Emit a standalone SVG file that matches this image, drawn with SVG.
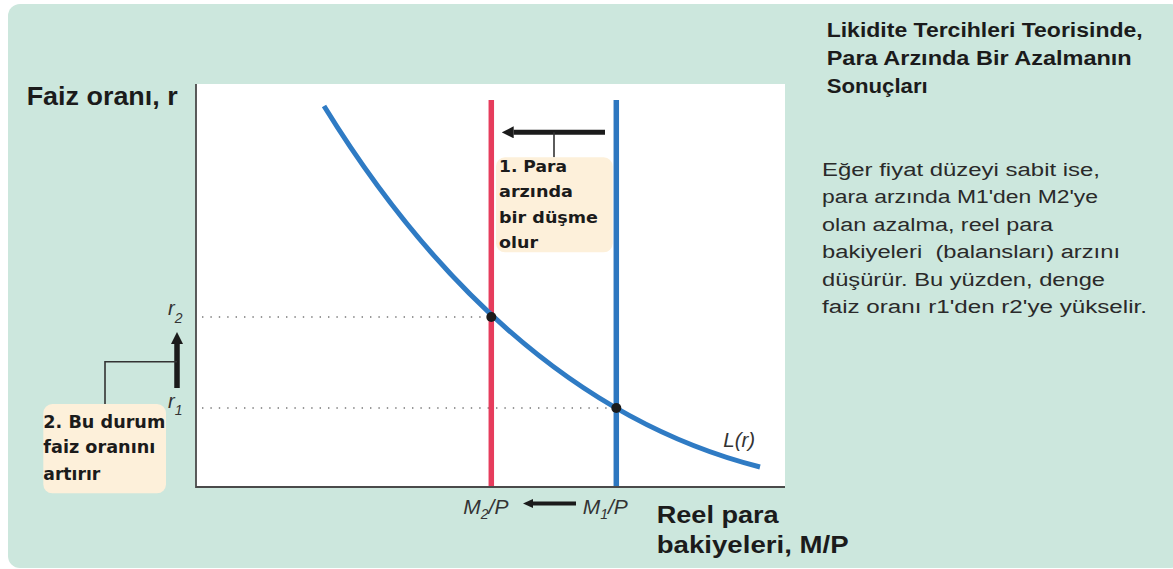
<svg xmlns="http://www.w3.org/2000/svg" width="1173" height="569" viewBox="0 0 1173 569">
  <style>
    .bold { font-family: "Liberation Sans", Arial, sans-serif; font-weight: bold; fill: #1b1b1b; }
    .box { font-family: "DejaVu Sans", "Liberation Sans", sans-serif; font-weight: bold; fill: #1b1b1b; font-size: 16.5px; }
    .box2 { font-family: "DejaVu Sans", "Liberation Sans", sans-serif; font-weight: bold; fill: #1b1b1b; font-size: 17.5px; }
    .para { font-family: "Liberation Sans", Arial, sans-serif; fill: #2a2a2a; font-size: 18px; }
    .ital { font-family: "Liberation Sans", Arial, sans-serif; font-style: italic; fill: #333333; }
    .dots { stroke: #777777; stroke-width: 1.6; stroke-dasharray: 1.4 7; fill: none; }
    .conn { stroke: #333333; stroke-width: 1.6; fill: none; }
    .arrow { stroke: #1b1b1b; fill: none; }
    .note { fill: #fdf0da; }
  </style>
  <defs>
    <marker id="ahBig" viewBox="0 0 12 12" refX="0" refY="6" markerWidth="12" markerHeight="12" markerUnits="userSpaceOnUse" orient="auto">
      <path d="M0,0 L12,6 L0,12 z" fill="#1b1b1b"/>
    </marker>
    <marker id="ahSmall" viewBox="0 0 10 9" refX="0" refY="4.5" markerWidth="10" markerHeight="9" markerUnits="userSpaceOnUse" orient="auto">
      <path d="M0,0 L10,4.5 L0,9 z" fill="#1b1b1b"/>
    </marker>
  </defs>

  <g id="background">
    <rect x="8" y="4" width="1175" height="564" rx="12" ry="12" fill="#cce7dd"/>
  </g>

  <g id="plot">
    <rect x="196" y="84" width="589" height="403" fill="#ffffff"/>
    <path d="M196,84 L196,487 L785,487" stroke="#4a4a4a" stroke-width="1.8" fill="none"/>
  </g>

  <g id="guides">
    <line class="dots" x1="202" y1="317" x2="488" y2="317"/>
    <line class="dots" x1="202" y1="408" x2="612" y2="408"/>
  </g>

  <g id="supply-lines">
    <line id="M2-line" x1="491.3" y1="100" x2="491.3" y2="486" stroke="#e63c5c" stroke-width="5.5"/>
    <line id="M1-line" x1="616.3" y1="100" x2="616.3" y2="486" stroke="#2d77c0" stroke-width="5.5"/>
  </g>

  <g id="demand-curve">
    <path d="M324,106 C424.7,269.4 568,418.5 760,467" stroke="#2f7bc4" stroke-width="5" fill="none"/>
  </g>

  <g id="equilibria">
    <circle cx="491.3" cy="317" r="5" fill="#1b1b1b"/>
    <circle cx="616.3" cy="408" r="5" fill="#1b1b1b"/>
  </g>

  <g id="connectors">
    <line class="arrow" x1="605" y1="132.3" x2="513.7" y2="132.3" stroke-width="5" marker-end="url(#ahBig)"/>
    <line class="conn" x1="554" y1="132.3" x2="554" y2="157.3"/>
    <line class="arrow" x1="576" y1="503.5" x2="533" y2="503.5" stroke-width="4" marker-end="url(#ahSmall)"/>
    <line class="arrow" x1="177" y1="388" x2="177" y2="344" stroke-width="5.5" marker-end="url(#ahBig)"/>
    <path class="conn" d="M177,361.7 L105,361.7 L105,404"/>
  </g>

  <g id="note-1">
    <rect class="note" x="496" y="157.3" width="116.7" height="95" rx="9" ry="9"/>
    <text class="box" x="499" y="171.7" textLength="68" lengthAdjust="spacingAndGlyphs">1. Para</text>
    <text class="box" x="499" y="197.3" textLength="74" lengthAdjust="spacingAndGlyphs">arzında</text>
    <text class="box" x="499" y="222.7" textLength="99" lengthAdjust="spacingAndGlyphs">bir düşme</text>
    <text class="box" x="499" y="248" textLength="39" lengthAdjust="spacingAndGlyphs">olur</text>
  </g>

  <g id="note-2">
    <rect class="note" x="43.3" y="404" width="122.7" height="89.3" rx="9" ry="9"/>
    <text class="box2" x="43.3" y="428.3" textLength="122" lengthAdjust="spacingAndGlyphs">2. Bu durum</text>
    <text class="box2" x="43.3" y="453.3" textLength="112" lengthAdjust="spacingAndGlyphs">faiz oranını</text>
    <text class="box2" x="43.3" y="480" textLength="57" lengthAdjust="spacingAndGlyphs">artırır</text>
  </g>

  <g id="axis-labels">
    <text class="bold" x="26.7" y="105" font-size="25.5" textLength="151" lengthAdjust="spacingAndGlyphs">Faiz oranı, r</text>
    <text class="bold" x="656.7" y="523.3" font-size="23.5" textLength="122" lengthAdjust="spacingAndGlyphs">Reel para</text>
    <text class="bold" x="656.7" y="553.3" font-size="23.5" textLength="192" lengthAdjust="spacingAndGlyphs">bakiyeleri, M/P</text>
  </g>

  <g id="tick-labels">
    <text class="ital" x="168" y="315" font-size="20">r<tspan font-size="14" dx="0" dy="8">2</tspan></text>
    <text class="ital" x="168" y="408" font-size="20">r<tspan font-size="14" dx="0" dy="7">1</tspan></text>
    <text class="ital" x="463.3" y="514" font-size="21">M<tspan font-size="14" dy="5">2</tspan><tspan dy="-5">/P</tspan></text>
    <text class="ital" x="582.7" y="514" font-size="21">M<tspan font-size="14" dy="5">1</tspan><tspan dy="-5">/P</tspan></text>
    <text class="ital" x="723.3" y="447" font-size="20.5">L(r)</text>
  </g>

  <g id="title">
    <text class="bold" x="826.7" y="37.3" font-size="20" textLength="316" lengthAdjust="spacingAndGlyphs">Likidite Tercihleri Teorisinde,</text>
    <text class="bold" x="826.7" y="65" font-size="20" textLength="305" lengthAdjust="spacingAndGlyphs">Para Arzında Bir Azalmanın</text>
    <text class="bold" x="826.7" y="92.7" font-size="20" textLength="101" lengthAdjust="spacingAndGlyphs">Sonuçları</text>
  </g>

  <g id="description">
    <text class="para" x="822" y="175.5" textLength="278" lengthAdjust="spacingAndGlyphs">Eğer fiyat düzeyi sabit ise,</text>
    <text class="para" x="822" y="203" textLength="276" lengthAdjust="spacingAndGlyphs">para arzında M1'den M2'ye</text>
    <text class="para" x="822" y="230.5" textLength="231" lengthAdjust="spacingAndGlyphs">olan azalma, reel para</text>
    <text class="para" x="822" y="258" textLength="298" lengthAdjust="spacingAndGlyphs" xml:space="preserve">bakiyeleri  (balansları) arzını</text>
    <text class="para" x="822" y="285.5" textLength="283" lengthAdjust="spacingAndGlyphs">düşürür. Bu yüzden, denge</text>
    <text class="para" x="822" y="313" textLength="325" lengthAdjust="spacingAndGlyphs">faiz oranı r1'den r2'ye yükselir.</text>
  </g>
</svg>
